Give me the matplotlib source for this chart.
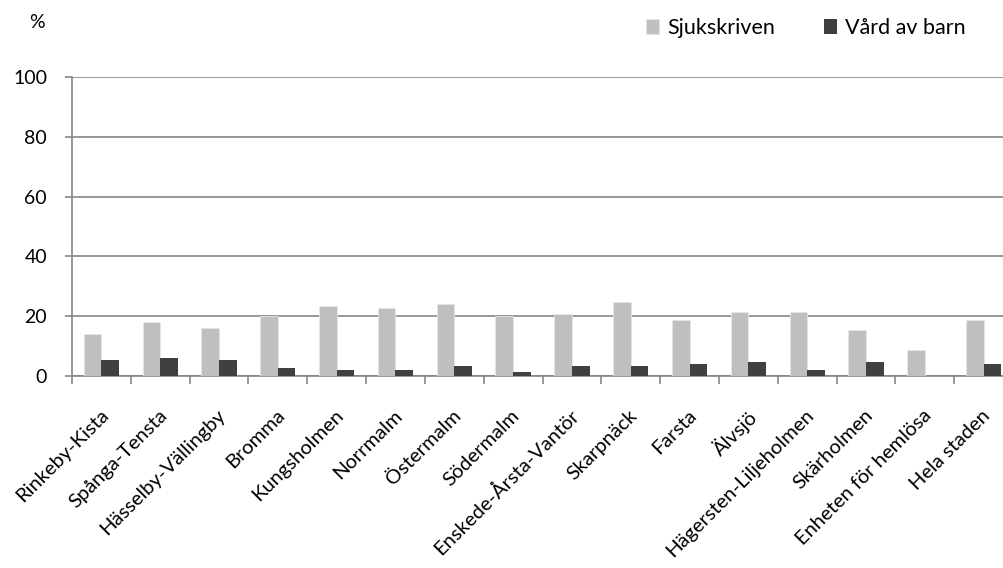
import matplotlib.pyplot as plt
import matplotlib.transforms as mtransforms
import numpy as np

plt.rcParams['font.family'] = ['Lato', 'DejaVu Sans']

districts = ['Rinkeby-Kista', 'Spånga-Tensta', 'Hässelby-Vällingby', 'Bromma',
             'Kungsholmen', 'Norrmalm', 'Östermalm', 'Södermalm',
             'Enskede-Årsta-Vantör', 'Skarpnäck', 'Farsta', 'Älvsjö',
             'Hägersten-Liljeholmen', 'Skärholmen', 'Enheten för hemlösa', 'Hela staden']
sjukskriven = [14, 18, 16, 20, 23.3, 22.6, 24, 20, 20.7, 24.6, 18.6, 21.3, 21.3, 15.3, 8.7, 18.6]
vard_av_barn = [5.3, 6, 5.3, 2.7, 2, 2, 3.3, 1.3, 3.3, 3.3, 4, 4.7, 2, 4.7, 0, 4]
yticks = [0, 20, 40, 60, 80, 100]

fig = plt.figure(figsize=(10.04, 5.68), dpi=100)
# the plot area runs a little past the right edge of the picture
ax = fig.add_axes([72/1004, 1-376/568, 941/1004, 299/568])

x = np.arange(len(districts)) + 0.5
w = 0.3
ax.bar(x - w/2, sjukskriven, w, color='#BFBFBF', edgecolor='#E6E6E6', linewidth=0.6,
       label='Sjukskriven', zorder=3)
ax.bar(x + w/2, vard_av_barn, w, color='#404040', label='Vård av barn', zorder=3)

ax.set_xlim(0, len(districts))
ax.set_ylim(0, 100)
ax.set_yticks(yticks)
ax.tick_params(axis='y', length=5, width=1.2, color='#868686', labelsize=14, pad=13)
ax.grid(axis='y', color='#868686', linewidth=1.2, zorder=0)

ax.set_xticks(np.arange(len(districts) + 1))
ax.set_xticklabels([])
ax.tick_params(axis='x', length=6, width=1.2, color='#868686')
ax.set_xticks(x, minor=True)
ax.set_xticklabels(districts, minor=True, rotation=45, ha='right', va='top',
                   rotation_mode='anchor', fontsize=14.5)
ax.tick_params(axis='x', which='minor', length=0, pad=22)
shift = mtransforms.ScaledTranslation(-2/100, 0, fig.dpi_scale_trans)
for lab in ax.get_xticklabels(minor=True):
    lab.set_transform(lab.get_transform() + shift)

for s in ['top', 'right']:
    ax.spines[s].set_visible(False)
for s in ['left', 'bottom']:
    ax.spines[s].set_color('#868686')
    ax.spines[s].set_linewidth(1.2)

fig.text(37/1004, 1-23/568, '%', fontsize=14, ha='center', va='center')
fig.legend(loc='center left', bbox_to_anchor=(646/1004, 1-28/568), ncol=2, frameon=False,
           fontsize=15.5, handlelength=0.6, handleheight=0.65, handletextpad=0.37,
           columnspacing=2.3, borderpad=0, borderaxespad=0)

fig.savefig('out.png', dpi=100)
